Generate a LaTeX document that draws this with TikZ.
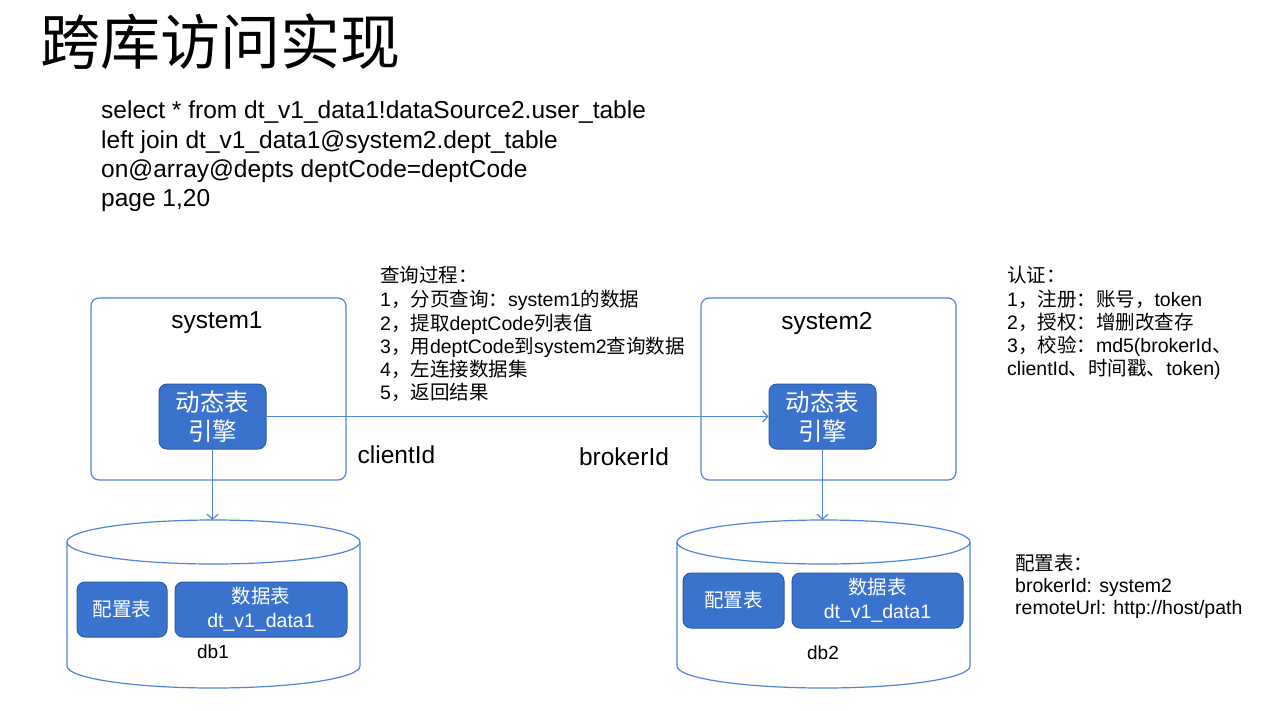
\documentclass[tikz,border=0pt]{standalone}
\usepackage{fontspec}
\setmainfont{Liberation Sans}
\newfontfamily\cjk{Noto Sans CJK SC}
\usetikzlibrary{arrows.meta}
\newcommand\zh[1]{{\cjk #1}}
\definecolor{lineblue}{HTML}{4F86D9}
\definecolor{fillblue}{HTML}{3A73CE}
\definecolor{edgeblue}{HTML}{2C5AA6}
\begin{document}
\begin{tikzpicture}[x=1pt,y=1pt,
  frame/.style={draw=lineblue, line width=1.2pt, rounded corners=8pt, minimum width=255pt, minimum height=182pt, inner sep=0pt},
  bluebox/.style={draw=edgeblue, fill=fillblue, line width=1pt, rounded corners=8pt, text=white, inner sep=0pt, align=center},
  engine/.style={bluebox, minimum width=107pt, minimum height=65pt, font=\fontsize{24.5}{29}\selectfont\cjk},
  cfgbox/.style={bluebox, minimum height=55pt, font=\fontsize{19.5}{24}\selectfont},
  link/.style={draw=lineblue, line width=1.2pt, -{Straight Barb[length=5pt,width=11pt]}},
  small/.style={font=\fontsize{19.5}{23}\selectfont, anchor=base west, inner sep=0pt},
  sql/.style={font=\fontsize{24.5}{29}\selectfont, anchor=base west, inner sep=0pt},
  label/.style={font=\fontsize{24.5}{29}\selectfont, inner sep=0pt},
  dblabel/.style={font=\fontsize{19}{23}\selectfont, inner sep=0pt},
  cyl/.style={draw=lineblue, line width=1.2pt}]
\useasboundingbox (0,0) rectangle (1272,-710);
\fill[white] (0,0) rectangle (1272,-710);

% title
\node[anchor=base west, inner sep=0pt, font=\fontsize{60}{66}\selectfont\cjk] (title) at (40,-64) {跨库访问实现};

% SQL
\node[sql] (sql1) at (101,-118) {select * from dt\_v1\_data1!dataSource2.user\_table};
\node[sql] (sql2) at (101,-148) {left join dt\_v1\_data1@system2.dept\_table};
\node[sql] (sql3) at (101,-177) {on@array@depts deptCode=deptCode};
\node[sql] (sql4) at (101,-206) {page 1,20};

% query process
\node[small] (q0) at (380,-282) {\zh{查询过程：}};
\node[small] (q1) at (380,-306) {1\zh{，分页查询：}system1\zh{的数据}};
\node[small] (q2) at (380,-330) {2\zh{，提取}deptCode\zh{列表值}};
\node[small] (q3) at (380,-353) {3\zh{，用}deptCode\zh{到}system2\zh{查询数据}};
\node[small] (q4) at (380,-376) {4\zh{，左连接数据集}};
\node[small] (q5) at (380,-399) {5\zh{，返回结果}};

% auth
\node[small] (a0) at (1007,-282) {\zh{认证：}};
\node[small] (a1) at (1007,-306) {1\zh{，注册：账号，}token};
\node[small] (a2) at (1007,-329) {2\zh{，授权：增删改查存}};
\node[small] (a3) at (1007,-352) {3\zh{，校验：}md5(brokerId\zh{、}};
\node[small] (a4) at (1007,-375) {clientId\zh{、时间戳、}token)};

% config
\node[small] (c0) at (1015,-570) {\zh{配置表：}};
\node[small] (c1) at (1015,-592) {brokerId: system2};
\node[small] (c2) at (1015,-614) {remoteUrl: http://host/path};

% systems
\node[frame] (sys1) at (218.5,-389) {};
\node[frame] (sys2) at (828.5,-389) {};
\node[label] (s1label) at (217,-323) {system1};
\node[label] (s2label) at (827,-323) {system2};
\node[engine] (e1) at (212.5,-416.5) {动态表\\引擎};
\node[engine] (e2) at (822.5,-416.5) {动态表\\引擎};
\node[label] (client) at (396.5,-455) {clientId};
\node[label] (broker) at (624,-457) {brokerId};

% cylinders
\draw[cyl] (67,-542) -- (67,-666) arc[start angle=180, end angle=360, x radius=146.5pt, y radius=22pt] -- (360,-542);
\draw[cyl] (213.5,-542) ellipse[x radius=146.5pt, y radius=22pt];
\coordinate (db1top) at (213.5,-520);
\draw[cyl] (677,-542) -- (677,-666) arc[start angle=180, end angle=360, x radius=146.5pt, y radius=22pt] -- (970,-542);
\draw[cyl] (823.5,-542) ellipse[x radius=146.5pt, y radius=22pt];
\coordinate (db2top) at (823.5,-520);

\node[cfgbox, minimum width=90pt] (cfg1) at (122,-609.5) {\zh{配置表}};
\node[cfgbox, minimum width=172pt] (data1) at (261,-609.5) {\zh{数据表}\\dt\_v1\_data1};
\node[dblabel] (db1) at (213,-652) {db1};
\node[cfgbox, minimum width=101pt] (cfg2) at (733.5,-600.5) {\zh{配置表}};
\node[cfgbox, minimum width=171pt] (data2) at (877.5,-600.5) {\zh{数据表}\\dt\_v1\_data1};
\node[dblabel] (db2) at (823,-653) {db2};

% connectors
\draw[link] (e1.east) -- (e2.west);
\draw[link] (e1.south) -- (e1.south |- db1top);
\draw[link] (e2.south) -- (e2.south |- db2top);
\end{tikzpicture}
\end{document}
